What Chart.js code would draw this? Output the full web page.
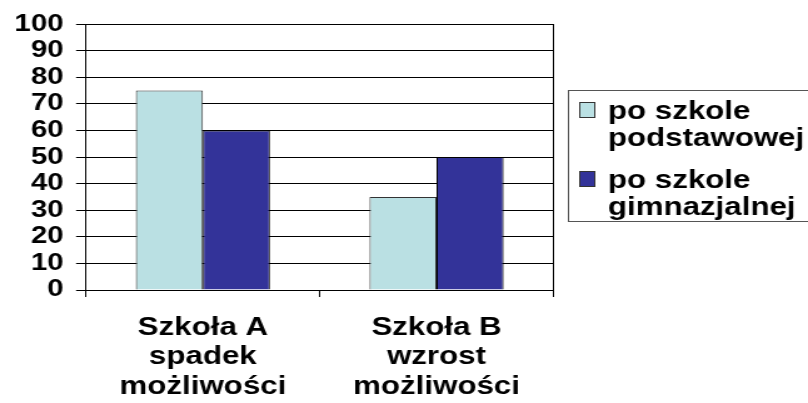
<!DOCTYPE html>
<html><head><meta charset="utf-8">
<script src="https://cdn.jsdelivr.net/npm/chart.js@4"></script>
<style>
html,body{margin:0;padding:0;background:#fff;overflow:hidden;width:808px;height:403px}
#wrap{width:646px;height:403px;transform:scaleX(1.2508);transform-origin:0 0}
</style>
</head><body>
<div id="wrap"><canvas id="c" width="646" height="403"></canvas></div>
<script>
// ---- data ----
const categories = [["Szkoła A", "spadek", "możliwości"], ["Szkoła B", "wzrost", "możliwości"]];
const seriesNames = ["po szkole podstawowej", "po szkole gimnazjalnej"];
const legendLines = [["po szkole", "podstawowej"], ["po szkole", "gimnazjalnej"]];
const afterPrimary = [75, 35];
const afterLowerSecondary = [60, 50];
const yMin = 0, yMax = 100, yStep = 10;

const FONT = "'Liberation Sans', Arial, sans-serif";
const lightColor = '#BAE0E3';
const darkColor = '#333399';

const legendPlugin = {
  id: 'customLegend',
  afterDraw(chart) {
    const ctx = chart.ctx;
    ctx.save();
    ctx.strokeStyle = '#555';
    ctx.lineWidth = 1;
    ctx.strokeRect(454.5, 90.5, 400, 131);
    ctx.font = 'bold 25px ' + FONT;
    ctx.textBaseline = 'alphabetic';
    const bases = [119, 188];
    chart.data.datasets.forEach((ds, i) => {
      const b = bases[i];
      ctx.fillStyle = ds.backgroundColor;
      ctx.fillRect(463, b - 17, 13, 16);
      ctx.strokeStyle = '#333';
      ctx.strokeRect(463.5, b - 16.5, 12, 15);
      ctx.fillStyle = '#000';
      legendLines[i].forEach((t, j) => ctx.fillText(t, 486, b + j * 27));
    });
    ctx.restore();
  }
};

new Chart(document.getElementById('c'), {
  type: 'bar',
  data: {
    labels: categories,
    datasets: [
      { label: seriesNames[0], data: afterPrimary, backgroundColor: lightColor, borderColor: '#333', borderWidth: 1,
        categoryPercentage: 0.574, barPercentage: 1 },
      { label: seriesNames[1], data: afterLowerSecondary, backgroundColor: darkColor, borderColor: '#000', borderWidth: 1,
        categoryPercentage: 0.574, barPercentage: 1 }
    ]
  },
  options: {
    responsive: false,
    animation: false,
    devicePixelRatio: 1,
    layout: { padding: { top: 22, right: 203.6, left: 0, bottom: 0 } },
    plugins: { legend: { display: false }, tooltip: { enabled: false } },
    scales: {
      x: {
        offset: true,
        grid: { display: true, drawOnChartArea: false, drawTicks: true, tickLength: 7, color: '#000', offset: true },
        border: { display: true, color: '#000', width: 1 },
        ticks: { color: '#000', padding: 16, font: { family: FONT, size: 25, weight: 'bold', lineHeight: 29.5 / 25 }, maxRotation: 0, autoSkip: false },
        afterFit(s) { s.height = 113; }
      },
      y: {
        min: yMin, max: yMax,
        grid: { color: '#000', tickLength: 8, drawTicks: true },
        border: { display: true, color: '#000', width: 1 },
        ticks: { stepSize: yStep, autoSkip: false, color: '#000', padding: 10, font: { family: FONT, size: 23.5, weight: 'bold' } },
        afterFit(s) { s.width = 68.8; }
      },
      y2: {
        position: 'right',
        min: yMin, max: yMax,
        grid: { drawOnChartArea: false, drawTicks: false },
        border: { display: true, color: '#000', width: 1 },
        ticks: { display: false },
        afterFit(s) { s.width = 0; }
      }
    }
  },
  plugins: [legendPlugin]
});
</script>
</body></html>
